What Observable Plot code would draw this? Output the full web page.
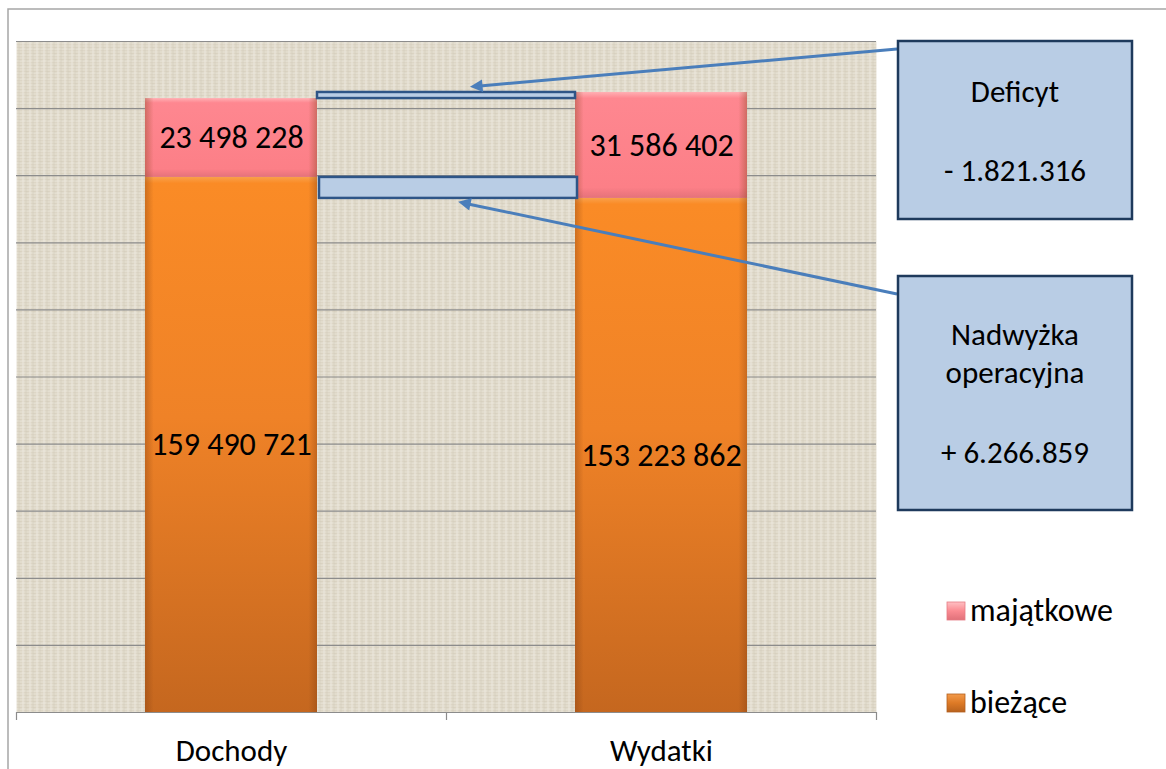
<!DOCTYPE html>
<html><head><meta charset="utf-8">
<script src="https://cdn.jsdelivr.net/npm/d3@7"></script>
<script src="https://cdn.jsdelivr.net/npm/@observablehq/plot@0.6"></script>
<style>
html,body{margin:0;padding:0;background:#fff;}
#chart{position:relative;width:1166px;height:769px;overflow:hidden;}
svg text{font-family: Carlito, Calibri, Lato, sans-serif;}
</style></head><body><div id="chart"></div>
<script>
// ---- data ----
const categories = ["Dochody", "Wydatki"];
const seriesNames = ["bieżące", "majątkowe"];
const legendOrder = ["majątkowe", "bieżące"];
const biezace = [159490721, 153223862];
const majatkowe = [23498228, 31586402];
const yTicks = [0, 20e6, 40e6, 60e6, 80e6, 100e6, 120e6, 140e6, 160e6, 180e6, 200e6];
const deficitText = ["Deficyt", "- 1.821.316"];
const surplusText = ["Nadwyżka", "operacyjna", "+ 6.266.859"];

const rows = categories.flatMap((c, i) => [
  {cat: c, type: "bieżące", value: biezace[i]},
  {cat: c, type: "majątkowe", value: majatkowe[i]}
]);
const totals = categories.map((c, i) => biezace[i] + majatkowe[i]);
const deficitBand = [{y1: totals[0], y2: totals[1]}];
const surplusBand = [{y1: biezace[1], y2: biezace[0]}];

const fmt = d3.formatLocale({decimal: ",", thousands: " ", grouping: [3], currency: ["", ""]}).format(",d");

const W = 1166, H = 769;
const mL = 16, mR = 290, mT = 41, mB = 57;
const step = (W - mL - mR) / 2;
const bw = step * 0.4;
const gapInset = -(step - bw - bw) / 2;

const plot = Plot.plot({
  width: W, height: H,
  marginLeft: mL, marginRight: mR, marginTop: mT, marginBottom: mB,
  style: {background: "transparent", overflow: "visible", fontFamily: "Carlito, Calibri, Lato, sans-serif"},
  x: {domain: categories, paddingInner: 0.6, paddingOuter: 0.3, label: null, axis: null},
  y: {domain: [0, 200e6], axis: null},
  color: {domain: seriesNames, range: ["url(#gOrange)", "url(#gPink)"]},
  marks: [
    Plot.frame({fill: "url(#linen)", stroke: null}),
    Plot.ruleY(yTicks, {stroke: "#8c8c8c", strokeWidth: 1.2}),
    Plot.barY(rows, {x: "cat", y: "value", fill: "type"}),
    Plot.barY(rows, {x: "cat", y: "value", fill: "url(#edge)"}),
    Plot.text(rows, Plot.stackY({x: "cat", y: "value", text: d => fmt(d.value), fontSize: 32, fill: "#000"})),
    Plot.barY(deficitBand, {x: () => categories[0], y1: "y1", y2: "y2", dx: step / 2, insetLeft: gapInset, insetRight: gapInset,
      fill: "#b9cde5", stroke: "#2e5587", strokeWidth: 2.5}),
    Plot.barY(surplusBand, {x: () => categories[0], y1: "y1", y2: "y2", dx: step / 2 + 2, insetLeft: gapInset, insetRight: gapInset,
      fill: "#b9cde5", stroke: "#2e5587", strokeWidth: 2.5}),
    Plot.ruleY([0], {stroke: "#8c8c8c", strokeWidth: 1.2}),
    Plot.ruleX(categories, {y1: 0, y2: 0, insetBottom: -8, dx: -step / 2, stroke: "#8c8c8c", strokeWidth: 1.2}),
    Plot.ruleX([categories[1]], {y1: 0, y2: 0, insetBottom: -8, dx: step / 2, stroke: "#8c8c8c", strokeWidth: 1.2}),
    Plot.axisX({tickSize: 0, tickPadding: 26, fontSize: 31, fill: "#000", label: null})
  ]
});

const svg = d3.select(plot);
const defs = svg.insert("defs", ":first-child");

// linen texture
const pat = defs.append("pattern").attr("id", "linen").attr("patternUnits", "userSpaceOnUse")
  .attr("width", 7).attr("height", 6);
pat.append("rect").attr("width", 7).attr("height", 6).attr("fill", "#ddd6c6");
pat.append("rect").attr("x", 0).attr("y", 0).attr("width", 7).attr("height", 1).attr("fill", "#ebe7dc");
pat.append("rect").attr("x", 0).attr("y", 3).attr("width", 7).attr("height", 1).attr("fill", "#e6e1d4");
pat.append("rect").attr("x", 1).attr("y", 0).attr("width", 1).attr("height", 6).attr("fill", "#eeeae0").attr("opacity", 0.8);
pat.append("rect").attr("x", 4).attr("y", 0).attr("width", 1).attr("height", 6).attr("fill", "#cdc5b2").attr("opacity", 0.45);
pat.append("rect").attr("x", 5).attr("y", 5).attr("width", 2).attr("height", 1).attr("fill", "#cbc3b0").attr("opacity", 0.5);

function grad(id, stops, horizontal) {
  const g = defs.append("linearGradient").attr("id", id)
    .attr("x1", 0).attr("y1", 0).attr("x2", horizontal ? 1 : 0).attr("y2", horizontal ? 0 : 1);
  stops.forEach(([o, c, op]) => g.append("stop").attr("offset", o).attr("stop-color", c).attr("stop-opacity", op ?? 1));
}
grad("gOrange", [[0, "#f9a04a"], [0.012, "#fa8b26"], [0.45, "#ef8227"], [1, "#c5671f"]]);
grad("gPink", [[0, "#ffb0b4"], [0.06, "#fe8790"], [0.9, "#fc7f87"], [1, "#e5727a"]]);
grad("edge", [[0, "#7a3a10", 0.35], [0.05, "#7a3a10", 0.0], [0.95, "#7a3a10", 0.0], [1, "#7a3a10", 0.35]], true);
grad("sOrange", [[0, "#f39a4a"], [0.5, "#dd7a26"], [1, "#b8621e"]]);
grad("sPink", [[0, "#ffc0c3"], [0.5, "#fa8a91"], [1, "#e0717a"]]);

const mk = defs.append("marker").attr("id", "arrowHead").attr("viewBox", "0 0 10 10")
  .attr("refX", 2).attr("refY", 5).attr("markerWidth", 5).attr("markerHeight", 4.2)
  .attr("orient", "auto-start-reverse").attr("markerUnits", "strokeWidth");
mk.append("path").attr("d", "M0,0 L10,5 L0,10 Z").attr("fill", "#4a7ebb");

const yS = plot.scale("y");
const y = v => yS.apply(v);

const ann = svg.append("g").attr("text-anchor", "start");
// outer border
ann.append("path").attr("d", `M8,${H} V9 H${W}`).attr("fill", "none").attr("stroke", "#a6a6a6").attr("stroke-width", 1.5);

// arrows
function arrow(x1, y1, x2, y2) {
  ann.append("line").attr("x1", x1).attr("y1", y1).attr("x2", x2).attr("y2", y2)
    .attr("stroke", "#4a7ebb").attr("stroke-width", 3).attr("marker-end", "url(#arrowHead)");
}
arrow(897, 49, 480, y(totals[1]) - 6);
arrow(897, 294, 468, y(biezace[1]) + 6);

// annotation boxes
function box(x, yTop, w, h, lines) {
  ann.append("rect").attr("x", x).attr("y", yTop).attr("width", w).attr("height", h)
    .attr("fill", "#b9cde5").attr("stroke", "#1e3a5c").attr("stroke-width", 2.5);
  lines.forEach(([t, by]) => ann.append("text").attr("x", x + w / 2).attr("y", by)
    .attr("text-anchor", "middle").attr("font-size", 31).attr("fill", "#000").text(t));
}
box(898, 41, 234, 178, [[deficitText[0], 102], [deficitText[1], 181]]);
box(898, 276, 234, 234, [[surplusText[0], 345], [surplusText[1], 383], [surplusText[2], 463]]);

// legend
const legFill = {"majątkowe": "url(#sPink)", "bieżące": "url(#sOrange)"};
legendOrder.forEach((name, i) => {
  const cy = 611 + i * 92;
  ann.append("rect").attr("x", 947).attr("y", cy - 9).attr("width", 18).attr("height", 18)
    .attr("fill", legFill[name]).attr("stroke", name === "bieżące" ? "#b3601e" : "#e77c84").attr("stroke-width", 0.8);
  ann.append("text").attr("x", 970).attr("y", cy + 10).attr("text-anchor", "start")
    .attr("font-size", 32).attr("fill", "#000").text(name);
});

document.getElementById("chart").appendChild(plot);
</script></body></html>
